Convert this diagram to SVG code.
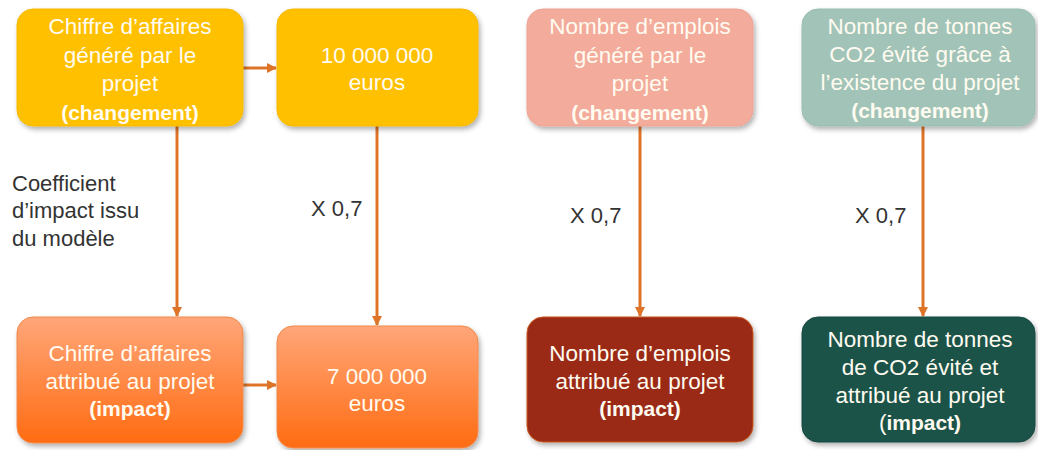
<svg xmlns="http://www.w3.org/2000/svg" width="1038" height="450" viewBox="0 0 1038 450">
  <style>
    .box { stroke-width: 1; filter: url(#shadow); }
    .t { font-family: "Liberation Sans", Arial, sans-serif; font-size: 22.5px; text-anchor: middle; fill: #FFFBF0; }
    .b { font-weight: bold; font-size: 21px; }
    .lbl { font-family: "Liberation Sans", Arial, sans-serif; font-size: 22px; fill: #333333; }
    .conn { stroke: #DE7428; stroke-width: 3; fill: none; marker-end: url(#arrow); }
  </style>
  <defs>
    <filter id="shadow" x="-10%" y="-10%" width="130%" height="130%">
      <feDropShadow dx="2" dy="3" stdDeviation="2.5" flood-color="#000" flood-opacity="0.3"/>
    </filter>
    <linearGradient id="orangeGrad" x1="0" y1="0" x2="0" y2="1">
      <stop offset="0" stop-color="#FFA679"/>
      <stop offset="1" stop-color="#FF6C12"/>
    </linearGradient>
    <marker id="arrow" viewBox="0 0 10 10" refX="9" refY="5" markerWidth="3.4" markerHeight="3.4" orient="auto" markerUnits="strokeWidth">
      <path d="M0,0 L10,5 L0,10 z" fill="#DE7428"/>
    </marker>
  </defs>

  <rect width="1038" height="450" fill="#FFFFFF"/>

  <!-- connectors -->
  <g id="connectors">
    <line class="conn" x1="243" y1="68" x2="276" y2="68"/>
    <line class="conn" x1="243" y1="385" x2="276" y2="385"/>
    <line class="conn" x1="177" y1="126" x2="177" y2="316"/>
    <line class="conn" x1="377" y1="126" x2="377" y2="325"/>
    <line class="conn" x1="640" y1="126" x2="640" y2="316"/>
    <line class="conn" x1="923" y1="126" x2="923" y2="316"/>
  </g>

  <!-- edge labels -->
  <g id="labels">
    <text class="lbl" x="12" y="191">Coefficient</text>
    <text class="lbl" x="12" y="218">d’impact issu</text>
    <text class="lbl" x="12" y="246">du modèle</text>
    <text class="lbl" x="311" y="216">X 0,7</text>
    <text class="lbl" x="570" y="223">X 0,7</text>
    <text class="lbl" x="855" y="223">X 0,7</text>
  </g>

  <g id="ca-genere">
    <rect class="box" x="17" y="9" width="226" height="117" rx="16" fill="#FFC000" stroke="#F5B800"/>
    <text class="t" x="130" y="34">Chiffre d’affaires</text>
    <text class="t" x="130" y="63">généré par le</text>
    <text class="t" x="130" y="91">projet</text>
    <text class="t b" x="130" y="120">(changement)</text>
  </g>

  <g id="ca-montant">
    <rect class="box" x="277" y="9" width="201" height="117" rx="16" fill="#FFC000" stroke="#F5B800"/>
    <text class="t" x="377" y="63">10 000 000</text>
    <text class="t" x="377" y="90">euros</text>
  </g>

  <g id="emplois-genere">
    <rect class="box" x="527" y="9" width="226" height="117" rx="16" fill="#F3AB9C" stroke="#EDA394"/>
    <text class="t" x="640" y="34">Nombre d’emplois</text>
    <text class="t" x="640" y="63">généré par le</text>
    <text class="t" x="640" y="91">projet</text>
    <text class="t b" x="640" y="120">(changement)</text>
  </g>

  <g id="co2-evite">
    <rect class="box" x="802" y="9" width="233" height="117" rx="16" fill="#A2C4B8" stroke="#9BBDB1"/>
    <text class="t" x="920" y="34">Nombre de tonnes</text>
    <text class="t" x="920" y="62">CO2 évité grâce à</text>
    <text class="t" x="920" y="90">l’existence du projet</text>
    <text class="t b" x="920" y="118">(changement)</text>
  </g>

  <g id="ca-attribue">
    <rect class="box" x="17" y="317" width="226" height="126" rx="16" fill="url(#orangeGrad)" stroke="#F08A4A"/>
    <text class="t" x="130" y="361">Chiffre d’affaires</text>
    <text class="t" x="130" y="389">attribué au projet</text>
    <text class="t b" x="130" y="416">(impact)</text>
  </g>

  <g id="ca-impact">
    <rect class="box" x="277" y="326" width="201" height="122" rx="16" fill="url(#orangeGrad)" stroke="#F08A4A"/>
    <text class="t" x="377" y="384">7 000 000</text>
    <text class="t" x="377" y="411">euros</text>
  </g>

  <g id="emplois-attribue">
    <rect class="box" x="527" y="317" width="226" height="125" rx="16" fill="#9A2B13" stroke="#C8561E"/>
    <text class="t" x="640" y="361">Nombre d’emplois</text>
    <text class="t" x="640" y="389">attribué au projet</text>
    <text class="t b" x="640" y="416">(impact)</text>
  </g>

  <g id="co2-attribue">
    <rect class="box" x="802" y="317" width="233" height="125" rx="16" fill="#1B524A" stroke="#174840"/>
    <text class="t" x="920" y="347">Nombre de tonnes</text>
    <text class="t" x="920" y="375">de CO2 évité et</text>
    <text class="t" x="920" y="403">attribué au projet</text>
    <text class="t" x="920" y="430">(<tspan class="b">impact)</tspan></text>
  </g>
</svg>
